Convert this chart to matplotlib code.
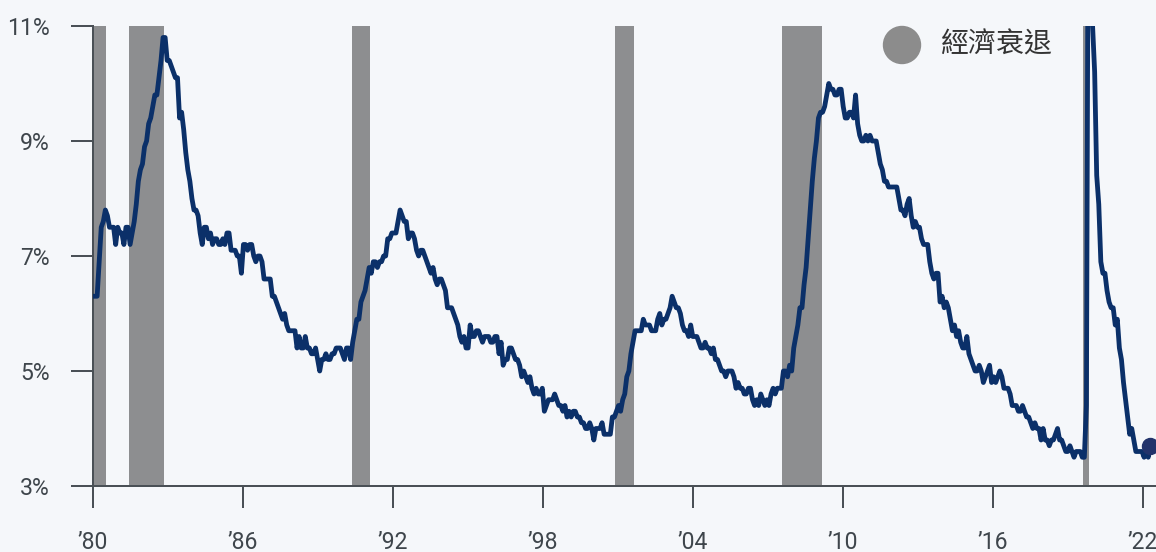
import numpy as np
import matplotlib
matplotlib.use("Agg")
import matplotlib.pyplot as plt

# Monthly US unemployment rate (%), Jan 1980 - Oct 2022
unrate_by_year = {
    1980: [6.3, 6.3, 6.3, 6.9, 7.5, 7.6, 7.8, 7.7, 7.5, 7.5, 7.5, 7.2],
    1981: [7.5, 7.4, 7.4, 7.2, 7.5, 7.5, 7.2, 7.4, 7.6, 7.9, 8.3, 8.5],
    1982: [8.6, 8.9, 9.0, 9.3, 9.4, 9.6, 9.8, 9.8, 10.1, 10.4, 10.8, 10.8],
    1983: [10.4, 10.4, 10.3, 10.2, 10.1, 10.1, 9.4, 9.5, 9.2, 8.8, 8.5, 8.3],
    1984: [8.0, 7.8, 7.8, 7.7, 7.4, 7.2, 7.5, 7.5, 7.3, 7.4, 7.2, 7.3],
    1985: [7.3, 7.2, 7.2, 7.3, 7.2, 7.4, 7.4, 7.1, 7.1, 7.1, 7.0, 7.0],
    1986: [6.7, 7.2, 7.2, 7.1, 7.2, 7.2, 7.0, 6.9, 7.0, 7.0, 6.9, 6.6],
    1987: [6.6, 6.6, 6.6, 6.3, 6.3, 6.2, 6.1, 6.0, 5.9, 6.0, 5.8, 5.7],
    1988: [5.7, 5.7, 5.7, 5.4, 5.6, 5.4, 5.4, 5.6, 5.4, 5.4, 5.3, 5.3],
    1989: [5.4, 5.2, 5.0, 5.2, 5.2, 5.3, 5.2, 5.2, 5.3, 5.3, 5.4, 5.4],
    1990: [5.4, 5.3, 5.2, 5.4, 5.4, 5.2, 5.5, 5.7, 5.9, 5.9, 6.2, 6.3],
    1991: [6.4, 6.6, 6.8, 6.7, 6.9, 6.9, 6.8, 6.9, 6.9, 7.0, 7.0, 7.3],
    1992: [7.3, 7.4, 7.4, 7.4, 7.6, 7.8, 7.7, 7.6, 7.6, 7.3, 7.4, 7.4],
    1993: [7.3, 7.1, 7.0, 7.1, 7.1, 7.0, 6.9, 6.8, 6.7, 6.8, 6.6, 6.5],
    1994: [6.6, 6.6, 6.5, 6.4, 6.1, 6.1, 6.1, 6.0, 5.9, 5.8, 5.6, 5.5],
    1995: [5.6, 5.4, 5.4, 5.8, 5.6, 5.6, 5.7, 5.7, 5.6, 5.5, 5.6, 5.6],
    1996: [5.6, 5.5, 5.5, 5.6, 5.6, 5.3, 5.5, 5.1, 5.2, 5.2, 5.4, 5.4],
    1997: [5.3, 5.2, 5.2, 5.1, 4.9, 5.0, 4.9, 4.8, 4.9, 4.7, 4.6, 4.7],
    1998: [4.6, 4.6, 4.7, 4.3, 4.4, 4.5, 4.5, 4.5, 4.6, 4.5, 4.4, 4.4],
    1999: [4.3, 4.4, 4.2, 4.3, 4.2, 4.3, 4.3, 4.2, 4.2, 4.1, 4.1, 4.0],
    2000: [4.0, 4.1, 4.0, 3.8, 4.0, 4.0, 4.0, 4.1, 3.9, 3.9, 3.9, 3.9],
    2001: [4.2, 4.2, 4.3, 4.4, 4.3, 4.5, 4.6, 4.9, 5.0, 5.3, 5.5, 5.7],
    2002: [5.7, 5.7, 5.7, 5.9, 5.8, 5.8, 5.8, 5.7, 5.7, 5.7, 5.9, 6.0],
    2003: [5.8, 5.9, 5.9, 6.0, 6.1, 6.3, 6.2, 6.1, 6.1, 6.0, 5.8, 5.7],
    2004: [5.7, 5.6, 5.8, 5.6, 5.6, 5.6, 5.5, 5.4, 5.4, 5.5, 5.4, 5.4],
    2005: [5.3, 5.4, 5.2, 5.2, 5.1, 5.0, 5.0, 4.9, 5.0, 5.0, 5.0, 4.9],
    2006: [4.7, 4.8, 4.7, 4.7, 4.6, 4.6, 4.7, 4.7, 4.5, 4.4, 4.5, 4.4],
    2007: [4.6, 4.5, 4.4, 4.5, 4.4, 4.6, 4.7, 4.6, 4.7, 4.7, 4.7, 5.0],
    2008: [5.0, 4.9, 5.1, 5.0, 5.4, 5.6, 5.8, 6.1, 6.1, 6.5, 6.8, 7.3],
    2009: [7.8, 8.3, 8.7, 9.0, 9.4, 9.5, 9.5, 9.6, 9.8, 10.0, 9.9, 9.9],
    2010: [9.8, 9.8, 9.9, 9.9, 9.6, 9.4, 9.4, 9.5, 9.5, 9.4, 9.8, 9.3],
    2011: [9.1, 9.0, 9.0, 9.1, 9.0, 9.1, 9.0, 9.0, 9.0, 8.8, 8.6, 8.5],
    2012: [8.3, 8.3, 8.2, 8.2, 8.2, 8.2, 8.2, 8.0, 7.8, 7.8, 7.7, 7.9],
    2013: [8.0, 7.7, 7.5, 7.6, 7.5, 7.5, 7.3, 7.2, 7.2, 7.2, 6.9, 6.7],
    2014: [6.6, 6.7, 6.7, 6.2, 6.3, 6.1, 6.2, 6.1, 5.9, 5.7, 5.8, 5.6],
    2015: [5.7, 5.5, 5.4, 5.4, 5.6, 5.3, 5.2, 5.1, 5.0, 5.0, 5.1, 5.0],
    2016: [4.8, 4.9, 5.0, 5.1, 4.8, 4.9, 4.8, 4.9, 5.0, 4.9, 4.7, 4.7],
    2017: [4.7, 4.6, 4.4, 4.4, 4.4, 4.3, 4.3, 4.4, 4.3, 4.2, 4.2, 4.1],
    2018: [4.0, 4.1, 4.0, 4.0, 3.8, 4.0, 3.8, 3.8, 3.7, 3.8, 3.8, 3.9],
    2019: [4.0, 3.8, 3.8, 3.7, 3.6, 3.6, 3.7, 3.6, 3.5, 3.6, 3.6, 3.6],
    2020: [3.5, 3.5, 4.4, 14.7, 13.2, 11.0, 10.2, 8.4, 7.9, 6.9, 6.7, 6.7],
    2021: [6.4, 6.2, 6.1, 6.1, 5.8, 5.9, 5.4, 5.2, 4.8, 4.5, 4.2, 3.9],
    2022: [4.0, 3.8, 3.6, 3.6, 3.6, 3.6, 3.5, 3.7, 3.5, 3.7],
}
unrate = np.concatenate([np.array(v) for v in unrate_by_year.values()])
start_year = 1980

# Recessions (start year, start month) and (end year, end month)
recession_start = [(1980, 1), (1981, 7), (1990, 7), (2001, 3), (2007, 12), (2020, 2)]
recession_end = [(1980, 7), (1982, 11), (1991, 3), (2001, 11), (2009, 6), (2020, 4)]

x_tick_labels = ["’80", "’86", "’92", "’98", "’04", "’10", "’16", "’22"]
y_ticks = [3, 5, 7, 9, 11]
y_tick_labels = ["3%", "5%", "7%", "9%", "11%"]
legend_label = "經濟衰退"

def midx(y, m):
    return (y - start_year) * 12 + (m - 1)

BG = "#f5f7fa"
LINE = "#0b3069"
SHADE = "#8d8e90"
TXT = "#3e454b"
AX = "#4a5056"

W, H = 1156, 552
PT = 72 / 100  # points per pixel at dpi 100
fig = plt.figure(figsize=(W / 100, H / 100), dpi=100, facecolor=BG)
ax = fig.add_axes([93 / W, 1 - 486 / H, (1156 - 93) / W, (486 - 26) / H])
ax.set_facecolor(BG)

x = np.arange(len(unrate))
px_per_month = 2.061
ax.set_xlim(0, (1156 - 93) / px_per_month)
ax.set_ylim(3, 11)

for (sy, sm), (ey, em) in zip(recession_start, recession_end):
    ax.axvspan(midx(sy, sm) - 0.5, midx(ey, em) + 0.5, color=SHADE, lw=0, zorder=1)

ax.plot(x, unrate, color=LINE, lw=4.8 * PT, solid_joinstyle="round",
        solid_capstyle="round", zorder=3)
ax.plot(x[-1], unrate[-1], "o", color="#22336b", ms=16 * PT, zorder=4)

# ticks
tick_step = 150 / px_per_month
ax.set_xticks(np.arange(len(x_tick_labels)) * tick_step)
ax.set_xticklabels(x_tick_labels)
ax.set_yticks(y_ticks)
ax.set_yticklabels(y_tick_labels)

for s in ["top", "right"]:
    ax.spines[s].set_visible(False)
for s in ["left", "bottom"]:
    ax.spines[s].set_color(AX)
    ax.spines[s].set_linewidth(2 * PT)

ax.tick_params(axis="both", colors=AX, width=2 * PT, length=22 * PT, labelsize=23 * PT,
               labelcolor=TXT, direction="out")
ax.tick_params(axis="x", pad=23 * PT)
ax.tick_params(axis="y", pad=21 * PT)
for lab in ax.get_xticklabels() + ax.get_yticklabels():
    lab.set_family(["Roboto", "DejaVu Sans"])

# legend
fig.patches.append(matplotlib.patches.Ellipse((902 / W, 1 - 45 / H), 37 / W, 37 / H,
                                              transform=fig.transFigure,
                                              color="#8c8c8c", zorder=5))
fig.text(941 / W, 1 - 45 / H, legend_label, fontsize=28 * PT, color="#333333",
         family=["Noto Sans CJK TC", "DejaVu Sans"], va="center", ha="left")

fig.savefig("out.png", dpi=100, facecolor=BG)
